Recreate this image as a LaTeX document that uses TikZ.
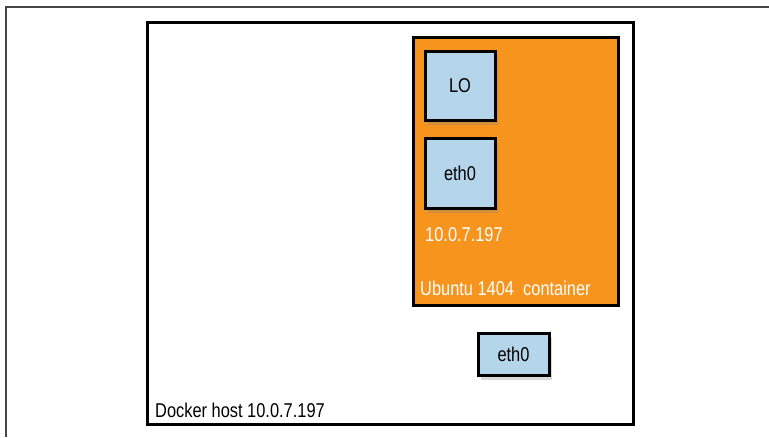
\documentclass[tikz,border=0pt]{standalone}
\usepackage{fontspec}
\setmainfont{Liberation Sans}[FakeStretch=0.82]
\usetikzlibrary{shadows}
\definecolor{ctrorange}{RGB}{247,148,30}
\definecolor{ifblue}{RGB}{180,213,234}
\definecolor{framegray}{RGB}{70,70,70}
\tikzset{
  iface/.style={draw=black, line width=3pt, fill=ifblue, inner sep=0pt,
    font=\fontsize{20}{22}\selectfont,
    drop shadow={shadow xshift=3pt, shadow yshift=-5pt, opacity=0.3}},
  ctrbox/.style={draw=black, line width=3pt, fill=ctrorange, inner sep=0pt},
  lbl/.style={anchor=west, inner sep=0pt, font=\fontsize{20}{22}\selectfont}
}
\begin{document}
\begin{tikzpicture}[x=1pt, y=-1pt]
    \useasboundingbox (0,0) rectangle (769,437);
    \draw[framegray, line width=1.3pt](769,7)--(6,7)--(6,437);
    % docker host
    \draw[line width=3pt](147,22) rectangle (633,424);
    \node[lbl] (host) at (155,410) {Docker host 10.0.7.197};
    % container
    \node[ctrbox, minimum width=205pt, minimum height=268pt] (ctr) at (515.5,171) {};
    \node[iface, minimum width=70pt, minimum height=69pt] (lo) at (460,85.5) {LO};
    \node[iface, minimum width=70pt, minimum height=70pt] (eth) at (460,173) {eth0};
    \node[lbl, white] (ip) at (425,235) {10.0.7.197};
    \node[lbl, white] (name) at (420,288) {Ubuntu 1404\ \ container};
    % host interface
    \node[iface, minimum width=71pt, minimum height=42pt] (hosteth) at (513.5,354) {eth0};
\end{tikzpicture}
\end{document}
